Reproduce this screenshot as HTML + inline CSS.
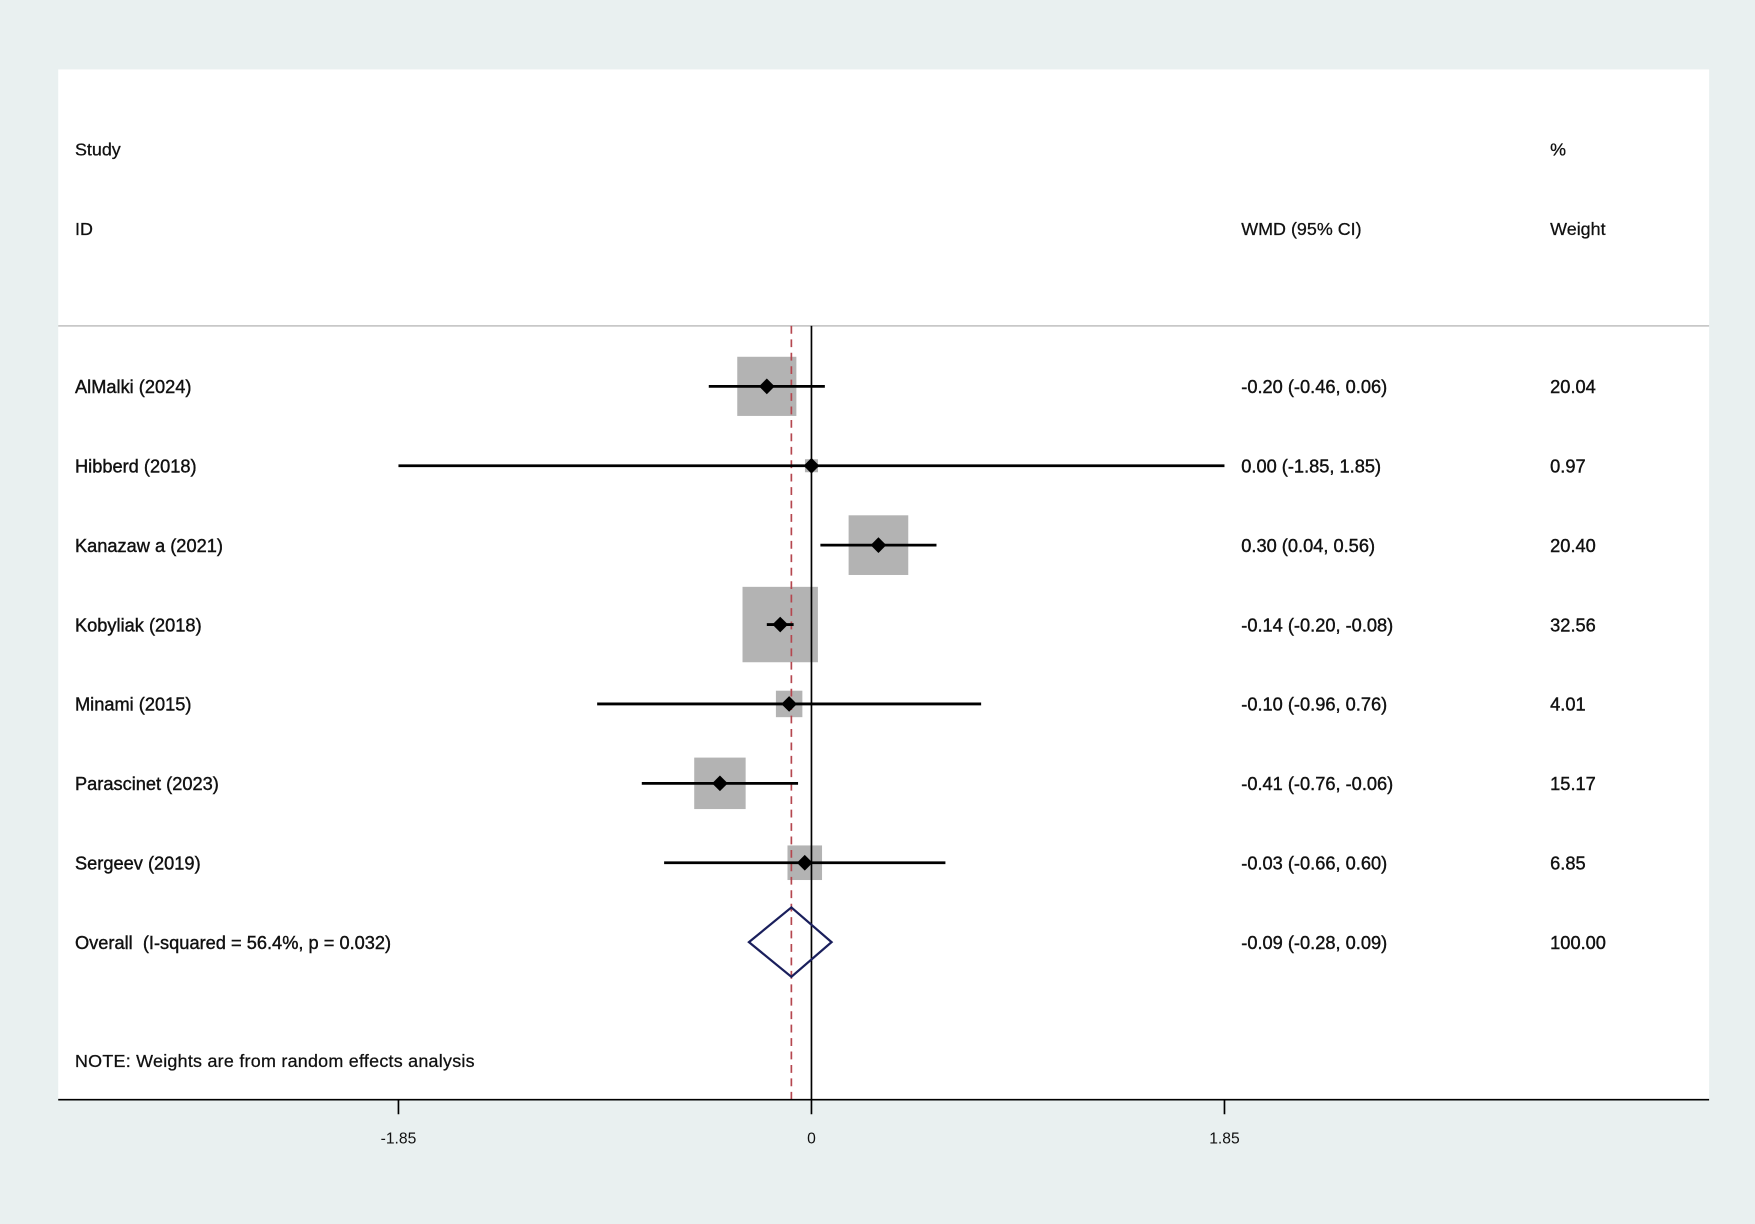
<!DOCTYPE html>
<html><head><meta charset="utf-8"><style>
html,body{margin:0;padding:0;background:#e9f0f0;}
svg{display:block;font-family:"Liberation Sans",Arial,sans-serif;}
text{white-space:pre;}
</style></head><body>
<svg id="chart" width="1755" height="1224" viewBox="0 0 1568 1093" preserveAspectRatio="none" xmlns="http://www.w3.org/2000/svg">
<rect x="0" y="0" width="1568" height="1093" fill="#e9f0f0"/>
<rect x="52" y="62" width="1475" height="920" fill="#ffffff"/>
<line x1="52" y1="291" x2="1527" y2="291" stroke="#c8c8c8" stroke-width="1.5"/>
<g font-size="16" fill="#111" stroke="#111" stroke-width="0.25">
<text x="67" y="139">Study</text>
<text x="67" y="210">ID</text>
<text x="1109" y="210">WMD (95% CI)</text>
<text x="1385" y="139">%</text>
<text x="1385" y="210">Weight</text>
<text x="67" y="953" textLength="357">NOTE: Weights are from random effects analysis</text>
</g>
<g id="marks"></g>
</svg>
<script>
const studies = ["AlMalki (2024)","Hibberd (2018)","Kanazaw a (2021)","Kobyliak (2018)","Minami (2015)","Parascinet (2023)","Sergeev (2019)"];
const estimates = [-0.20, 0.00, 0.30, -0.14, -0.10, -0.41, -0.03];
const lowerCI = [-0.46, -1.85, 0.04, -0.20, -0.96, -0.76, -0.66];
const upperCI = [0.06, 1.85, 0.56, -0.08, 0.76, -0.06, 0.60];
const weights = [20.04, 0.97, 20.40, 32.56, 4.01, 15.17, 6.85];
const ciLabels = ["-0.20 (-0.46, 0.06)","0.00 (-1.85, 1.85)","0.30 (0.04, 0.56)","-0.14 (-0.20, -0.08)","-0.10 (-0.96, 0.76)","-0.41 (-0.76, -0.06)","-0.03 (-0.66, 0.60)"];
const overall = [-0.09, -0.28, 0.09];
const overallLabel = "Overall  (I-squared = 56.4%, p = 0.032)";
const overallCI = "-0.09 (-0.28, 0.09)";
const overallWeight = "100.00";
const ticks = [-1.85, 0, 1.85];
const tickLabels = ["-1.85","0","1.85"];

const NS="http://www.w3.org/2000/svg";
const g=document.getElementById('marks');
const xs=v=>725+v*(1094-725)/1.85;
const rowY=i=>345+i*70.9;
function el(t,a){const e=document.createElementNS(NS,t);for(const k in a)e.setAttribute(k,a[k]);g.appendChild(e);return e;}
function txt(x,y,s){const e=el('text',{x:x,y:y,'font-size':16.3,fill:'#111',stroke:'#111','stroke-width':0.35});e.textContent=s;return e;}

studies.forEach((s,i)=>{
  const y=rowY(i), side=11.8*Math.sqrt(weights[i]);
  const b=el('rect',{x:xs(estimates[i])-side/2,y:y-side/2,width:side,height:side,fill:'#b3b3b3'});
  
  
});
const zl=el('line',{x1:xs(0),y1:291,x2:xs(0),y2:982,stroke:'#000','stroke-width':1.5});


const ol=el('line',{x1:xs(overall[0]),y1:291,x2:xs(overall[0]),y2:982,stroke:'#b5474f','stroke-width':1.5,'stroke-dasharray':'7,5'});


studies.forEach((s,i)=>{
  const y=rowY(i);
  const l=el('line',{x1:xs(lowerCI[i]),y1:y,x2:xs(upperCI[i]),y2:y,stroke:'#000','stroke-width':2.5});
  
  
  const cx=xs(estimates[i]);
  const p=el('polygon',{points:`${cx-7},${y} ${cx},${y-7} ${cx+7},${y} ${cx},${y+7}`,fill:'#000'});
  
  
  const t1=txt(67,y+6,s);
  
  
  const t2=txt(1109,y+6,ciLabels[i]);
  
  
  const t3=txt(1385,y+6,weights[i].toFixed(2));
  
  
});
const oy=rowY(7);
const d=el('polygon',{points:`${xs(overall[1])},${oy} ${xs(overall[0])},${oy-31} ${xs(overall[2])},${oy} ${xs(overall[0])},${oy+31}`,fill:'none',stroke:'#1a1f5c','stroke-width':2});


const o1=txt(67,oy+6,overallLabel);


const o2=txt(1109,oy+6,overallCI);


const o3=txt(1385,oy+6,overallWeight);


const ax=el('line',{x1:52,y1:982,x2:1527,y2:982,stroke:'#000','stroke-width':1.5});


ticks.forEach((v,i)=>{
  const tk=el('line',{x1:xs(v),y1:982,x2:xs(v),y2:995,stroke:'#000','stroke-width':1.5});
  
  
  const tl=el('text',{x:xs(v),y:1021,'font-size':14,fill:'#111','text-anchor':'middle'});
  tl.textContent=tickLabels[i];
  
  
});
</script>
</body></html>
